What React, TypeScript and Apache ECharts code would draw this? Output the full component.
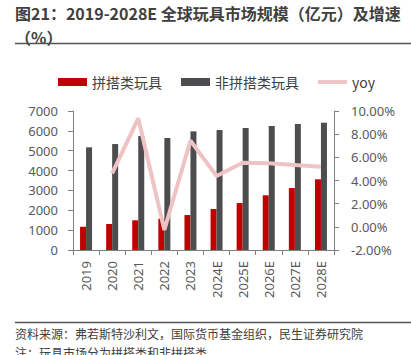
import React, { useEffect, useRef } from "react";
import * as echarts from "echarts";

const categories = ["2019", "2020", "2021", "2022", "2023", "2024E", "2025E", "2026E", "2027E", "2028E"];
const buildingToys = [1170, 1310, 1495, 1575, 1760, 2065, 2365, 2755, 3120, 3560];
const nonBuildingToys = [5170, 5335, 5740, 5640, 5975, 6040, 6145, 6245, 6345, 6410];
const yoy = [null, 4.62, 9.37, -0.27, 7.44, 4.39, 5.54, 5.48, 5.34, 5.19];
const leftTicks = { min: 0, max: 7000, interval: 1000 };
const rightTicks = { min: -2, max: 10, interval: 2 };

const FONT = "'Noto Sans', 'Noto Sans CJK SC', sans-serif";
const CJK = "'Noto Sans CJK SC', 'Noto Sans', sans-serif";
const AXIS_COLOR = "#808080";
const LABEL_COLOR = "#595959";
const YOY_COLOR = "#EEC3C3";

export default function App() {
  const ref = useRef<HTMLDivElement>(null);
  useEffect(() => {
    if (!ref.current) return;
    const chart = echarts.init(ref.current, null, { renderer: "svg" });
    chart.setOption({
      animation: false,
      backgroundColor: "#ffffff",
      textStyle: { fontFamily: FONT },
      graphic: [
        {
          type: "text",
          left: 15,
          top: 4,
          style: {
            text: "图21：2019-2028E 全球玩具市场规模（亿元）及增速",
            font: `bold 16px ${CJK}`,
            lineHeight: 18,
            fill: "#404040",
          },
        },
        {
          type: "text",
          left: 15,
          top: 28,
          style: { text: "（%）", font: `bold 16px ${CJK}`, lineHeight: 18, fill: "#404040" },
        },
        {
          type: "line",
          shape: { x1: 15, y1: 43.5, x2: 411, y2: 43.5 },
          style: { stroke: "#555555", lineWidth: 1.5 },
        },
        {
          type: "line",
          shape: { x1: 15, y1: 322.5, x2: 411, y2: 322.5 },
          style: { stroke: "#555555", lineWidth: 1.5 },
        },
        {
          type: "text",
          left: 15,
          top: 327,
          style: {
            text: "资料来源：弗若斯特沙利文，国际货币基金组织，民生证券研究院",
            font: `12px ${CJK}`,
            fill: "#404040",
          },
        },
        {
          type: "text",
          left: 15,
          top: 346,
          style: {
            text: "注：玩具市场分为拼搭类和非拼搭类",
            font: `12px ${CJK}`,
            fill: "#404040",
          },
        },
      ],
      legend: {
        left: 53,
        top: 70,
        itemWidth: 29,
        itemHeight: 8,
        itemGap: 19,
        textStyle: { fontSize: 14, color: "#404040", fontFamily: CJK },
        data: [
          { name: "拼搭类玩具", icon: "rect" },
          { name: "非拼搭类玩具", icon: "rect" },
          { name: "yoy", icon: "path://M0,0M0,8M0,2H30V6H0Z" },
        ],
      },
      grid: { left: 73, right: 77, top: 111, bottom: 105, containLabel: false },
      xAxis: {
        type: "category",
        data: categories,
        axisLine: { lineStyle: { color: AXIS_COLOR } },
        axisTick: { show: true, length: 5, lineStyle: { color: AXIS_COLOR } },
        axisLabel: { rotate: 90, margin: 11, fontSize: 13, color: LABEL_COLOR, fontFamily: FONT },
      },
      yAxis: [
        {
          type: "value",
          ...leftTicks,
          axisLine: { show: true, lineStyle: { color: AXIS_COLOR } },
          axisTick: { show: true, length: 5, lineStyle: { color: AXIS_COLOR } },
          splitLine: { show: false },
          axisLabel: {
            margin: 15,
            fontSize: 13,
            color: LABEL_COLOR,
            fontFamily: FONT,
            formatter: (v: number) => String(v),
          },
        },
        {
          type: "value",
          ...rightTicks,
          axisLine: { show: true, lineStyle: { color: AXIS_COLOR } },
          axisTick: { show: true, length: 5, lineStyle: { color: AXIS_COLOR } },
          splitLine: { show: false },
          axisLabel: {
            margin: 17,
            fontSize: 13,
            color: LABEL_COLOR,
            fontFamily: FONT,
            formatter: (v: number) => v.toFixed(2) + "%",
          },
        },
      ],
      series: [
        {
          name: "拼搭类玩具",
          type: "bar",
          data: buildingToys,
          barWidth: 6,
          barGap: "0%",
          itemStyle: { color: "#C00000" },
        },
        {
          name: "非拼搭类玩具",
          type: "bar",
          data: nonBuildingToys,
          barWidth: 6,
          barGap: "0%",
          itemStyle: { color: "#4D4D4F" },
        },
        {
          name: "yoy",
          type: "line",
          yAxisIndex: 1,
          data: yoy,
          symbol: "none",
          connectNulls: false,
          lineStyle: { color: YOY_COLOR, width: 4 },
          itemStyle: { color: YOY_COLOR },
        },
      ],
    });
    return () => chart.dispose();
  }, []);
  return <div ref={ref} style={{ width: 411, height: 355, position: "absolute", left: 0, top: 0 }} />;
}
